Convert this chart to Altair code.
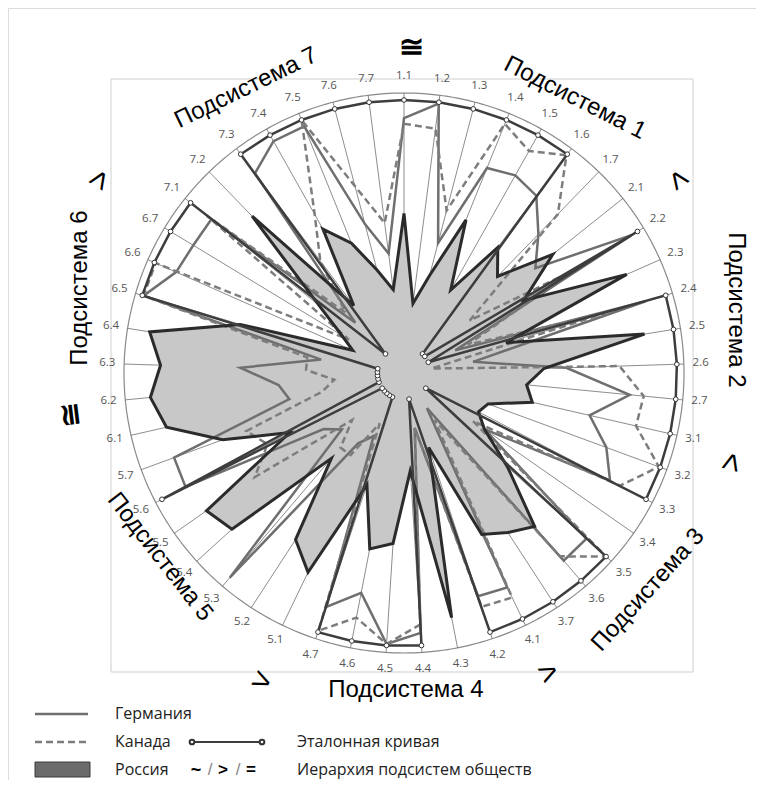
import altair as alt
import pandas as pd

labels = ["1.1", "1.2", "1.3", "1.4", "1.5", "1.6", "1.7",
          "2.1", "2.2", "2.3", "2.4", "2.5", "2.6", "2.7",
          "3.1", "3.2", "3.3", "3.4", "3.5", "3.6", "3.7",
          "4.1", "4.2", "4.3", "4.4", "4.5", "4.6", "4.7",
          "5.1", "5.2", "5.3", "5.4", "5.5", "5.6", "5.7",
          "6.1", "6.2", "6.3", "6.4", "6.5", "6.6", "6.7",
          "7.1", "7.2", "7.3", "7.4", "7.5", "7.6", "7.7"]

germany = [0.91, 0.97, 0.48, 0.79, 0.81, 0.79, 0.69,
           0.60, 0.95, 0.20, 0.90, 0.25, 0.58, 0.81,
           0.68, 0.77, 0.83, 0.35, 0.88, 0.88, 0.15,
           0.85, 0.84, 0.20, 0.93, 0.97, 0.80, 0.88,
           0.25, 0.30, 0.96, 0.30, 0.35, 0.88, 0.875,
           0.42, 0.45, 0.585, 0.30, 0.97, 0.89, 0.88,
           0.88, 0.25, 0.89, 0.95, 0.95, 0.55, 0.43]

canada = [0.89, 0.88, 0.60, 0.96, 0.91, 0.97, 0.79,
          0.30, 0.70, 0.25, 0.75, 0.10, 0.77, 0.86,
          0.85, 0.97, 0.87, 0.30, 0.975, 0.86, 0.20,
          0.89, 0.88, 0.20, 0.90, 0.97, 0.89, 0.97,
          0.20, 0.35, 0.35, 0.25, 0.65, 0.55, 0.60,
          0.30, 0.25, 0.35, 0.35, 0.97, 0.97, 0.23,
          0.90, 0.30, 0.50, 0.65, 0.975, 0.69, 0.54]

russia = [0.57, 0.25, 0.36, 0.59, 0.34, 0.56, 0.48,
          0.68, 0.50, 0.87, 0.38, 0.87, 0.50, 0.44,
          0.47, 0.32, 0.30, 0.35, 0.50, 0.72, 0.68,
          0.64, 0.28, 0.89, 0.35, 0.61, 0.64, 0.42,
          0.79, 0.71, 0.40, 0.83, 0.86, 0.46, 0.69,
          0.87, 0.91, 0.87, 0.92, 0.61, 0.20, 0.26,
          0.39, 0.78, 0.30, 0.59, 0.50, 0.38, 0.30]

HI, LO = 0.975, 0.095
reference = [HI, HI, HI, HI, HI, HI, LO,
             LO, HI, LO, HI, HI, HI, HI,
             HI, HI, HI, LO, HI, HI, HI,
             HI, HI, LO, HI, HI, HI, HI,
             LO, LO, LO, LO, LO, HI, LO,
             LO, LO, LO, LO, HI, HI, HI,
             HI, LO, HI, HI, HI, HI, HI]

subsystems = ["Подсистема 1", "Подсистема 2", "Подсистема 3", "Подсистема 4",
              "Подсистема 5", "Подсистема 6", "Подсистема 7"]
signs = ["≅", "<", "<", "<", "<", "≅", ">"]
legend_names = ["Германия", "Канада", "Россия", "Эталонная кривая",
                "Иерархия подсистем обществ"]

# ---------------- layout ----------------
N = len(labels)
S = 280.0            # px per unit radius
CX, CY = 404, 373    # page coordinates of the centre
W, H = 748, 772
xs = alt.Scale(domain=[(8 - CX) / S, (8 + W - CX) / S], nice=False, zero=False)
ys = alt.Scale(domain=[(CY - 8 - H) / S, (CY - 8) / S], nice=False, zero=False)
X = alt.X("px:Q", scale=xs, axis=None)
Y = alt.Y("py:Q", scale=ys, axis=None)
ANG = f"2*PI*datum.i/{N}"

one = pd.DataFrame({"k": [0]})


def polar(df, rexpr="datum.v"):
    return (alt.Chart(df)
            .transform_calculate(a=ANG)
            .transform_calculate(px=f"({rexpr})*sin(datum.a)",
                                 py=f"({rexpr})*cos(datum.a)"))


def sdf(vals):
    return pd.DataFrame({"i": list(range(N)), "v": vals, "label": labels})


def txt(s, x, y, size, angle=0, color="#000000", font="Liberation Sans",
        align="center", weight="normal"):
    return alt.Chart(one).mark_text(
        text=s, fontSize=size, angle=angle % 360, align=align, baseline="middle",
        font=font, color=color, fontWeight=weight
    ).encode(x=alt.value(x - 8), y=alt.value(y - 8))


# outer circle
circle = (alt.Chart(alt.sequence(0, 361, 1, as_="deg"))
          .transform_calculate(px="sin(datum.deg*PI/180)", py="cos(datum.deg*PI/180)")
          .mark_line(stroke="#8a8a8a", strokeWidth=1.2)
          .encode(x=X, y=Y, order="deg:Q"))

# spokes
spokes = (polar(sdf(reference), "1")
          .transform_calculate(x0="0", y0="0")
          .mark_rule(stroke="#707070", strokeWidth=0.8)
          .encode(x=alt.X("x0:Q", scale=xs, axis=None), y=alt.Y("y0:Q", scale=ys, axis=None),
                  x2="px:Q", y2="py:Q"))

spoke_labels = (polar(sdf(reference), "1.06")
                .mark_text(font="Open Sans", fontSize=11.5, color="#555555")
                .encode(x=X, y=Y, text="label:N"))

russia_fill = (polar(sdf(russia))
               .mark_line(interpolate="linear-closed", fill="#c8c8c8", stroke="#c8c8c8",
                          strokeWidth=0.5)
               .encode(x=X, y=Y, order="i:Q"))

germany_line = (polar(sdf(germany))
                .mark_line(interpolate="linear-closed", stroke="#6f6f6f", strokeWidth=2.5)
                .encode(x=X, y=Y, order="i:Q"))

canada_line = (polar(sdf(canada))
               .mark_line(interpolate="linear-closed", stroke="#7d7d7d", strokeWidth=2.5,
                          strokeDash=[7, 4])
               .encode(x=X, y=Y, order="i:Q"))

russia_line = (polar(sdf(russia))
               .mark_line(interpolate="linear-closed", stroke="#2b2b2b", strokeWidth=3)
               .encode(x=X, y=Y, order="i:Q"))

ref_line = (polar(sdf(reference))
            .mark_line(interpolate="linear-closed", stroke="#3d3d3d", strokeWidth=2.5)
            .encode(x=X, y=Y, order="i:Q"))

ref_pts = (polar(sdf(reference))
           .mark_point(shape="circle", filled=True, fill="#ffffff", stroke="#333333",
                       strokeWidth=1, size=22, opacity=1)
           .encode(x=X, y=Y))

# plot-area frame (inner rectangle)
frame = alt.Chart(one).mark_rect(filled=False, stroke="#cfcfcf", strokeWidth=1).encode(
    x=alt.value(111 - 8), x2=alt.value(693 - 8), y=alt.value(79 - 8), y2=alt.value(672 - 8))

# subsystem titles
sub_layers = [
    txt(subsystems[0], 575, 98, 24, 27),
    txt(subsystems[1], 736, 310, 24, 90),
    txt(subsystems[2], 648, 590, 24, -48),
    txt(subsystems[3], 406, 690, 24, 0),
    txt(subsystems[4], 160, 557, 24, 52),
    txt(subsystems[5], 80, 288, 24, -90),
    txt(subsystems[6], 246, 88, 24, -26),
]

# hierarchy signs between the subsystems
sign_layers = [
    txt(signs[0], 411, 48, 30, 0, weight="bold"),
    txt(signs[1], 678, 180, 32, 55),
    txt(signs[2], 731, 462, 32, 105),
    txt(signs[3], 548, 672, 32, 154),
    txt(signs[4], 262, 680, 32, 205),
    txt(signs[5], 72, 415, 30, 263, weight="bold"),
    txt(signs[6], 100, 180, 32, 302),
]

# legend
leg = [
    alt.Chart(one).mark_rule(stroke="#6f6f6f", strokeWidth=2.5).encode(
        x=alt.value(35 - 8), x2=alt.value(88 - 8), y=alt.value(714 - 8)),
    alt.Chart(one).mark_rule(stroke="#7d7d7d", strokeWidth=2.5, strokeDash=[7, 4]).encode(
        x=alt.value(35 - 8), x2=alt.value(90 - 8), y=alt.value(742 - 8)),
    alt.Chart(one).mark_rect(fill="#6b6b6b", stroke="#3a3a3a", strokeWidth=1).encode(
        x=alt.value(35 - 8), x2=alt.value(90 - 8), y=alt.value(762 - 8), y2=alt.value(777 - 8)),
    alt.Chart(one).mark_rule(stroke="#3d3d3d", strokeWidth=2).encode(
        x=alt.value(192 - 8), x2=alt.value(262 - 8), y=alt.value(742 - 8)),
    alt.Chart(pd.DataFrame({"k": [0, 1]})).mark_point(
        shape="circle", filled=True, fill="#ffffff", stroke="#333333", size=22, opacity=1
    ).encode(x=alt.X("k:Q", scale=alt.Scale(domain=[0, 1], range=[192 - 8, 262 - 8]), axis=None),
             y=alt.value(742 - 8)),
    txt(legend_names[0], 115, 714, 16, font="Open Sans", align="left", color="#222222"),
    txt(legend_names[1], 115, 742, 16, font="Open Sans", align="left", color="#222222"),
    txt(legend_names[2], 115, 770, 16, font="Open Sans", align="left", color="#222222"),
    txt(legend_names[3], 297, 742, 16, font="Open Sans", align="left", color="#222222"),
    txt(legend_names[4], 297, 770, 16, font="Open Sans", align="left", color="#222222"),
    txt("~", 196, 771, 18, weight="bold"),
    txt("/", 210, 770, 17, color="#888888"),
    txt(">", 223, 770, 17, weight="bold"),
    txt("/", 238, 770, 17, color="#888888"),
    txt("=", 251, 770, 17, weight="bold"),
]

chart = alt.layer(
    frame, circle, spokes, russia_fill, germany_line, canada_line, russia_line,
    ref_line, ref_pts, spoke_labels, *sub_layers, *sign_layers, *leg
).resolve_scale(x="independent").properties(width=W, height=H, padding=0
).configure_view(stroke="#9a9a9a", strokeWidth=1).configure(background="#ffffff")

chart.save("out.html", embed_options={"renderer": "svg", "actions": False})
